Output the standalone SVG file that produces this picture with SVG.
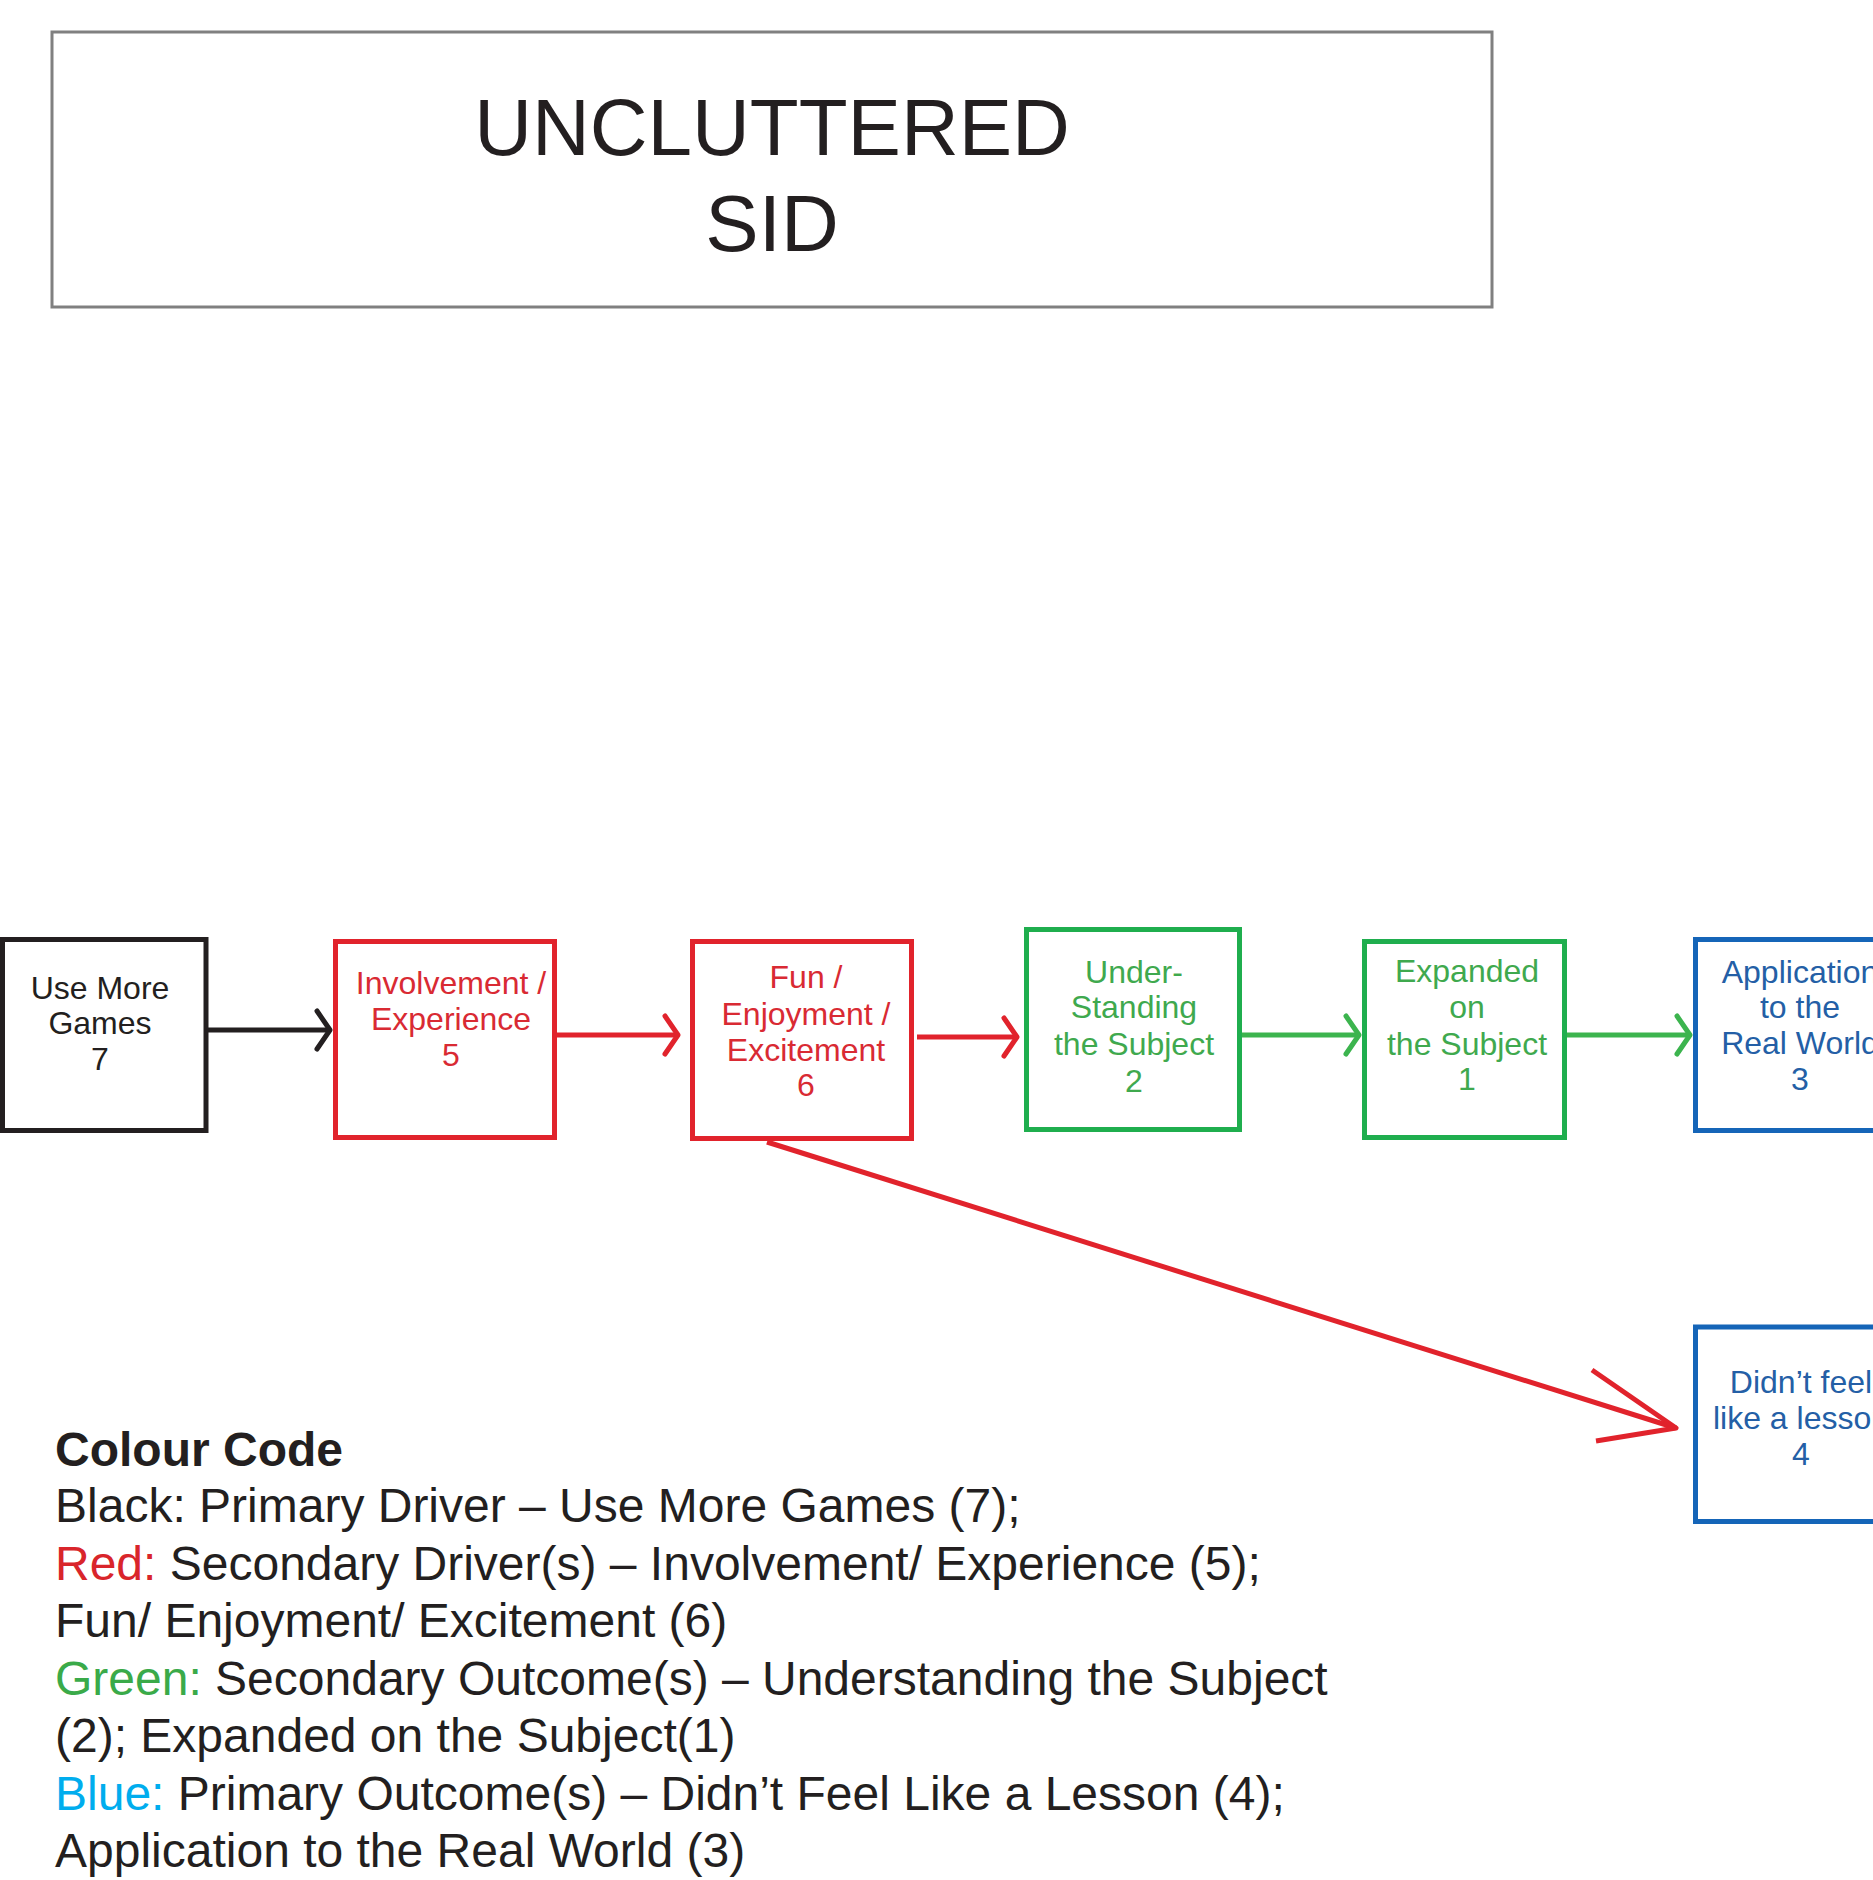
<svg xmlns="http://www.w3.org/2000/svg" width="1873" height="1880" viewBox="0 0 1873 1880">
  <style>
    .box { fill: #ffffff; stroke-width: 5; }
    .k { stroke: #231f20; }
    .r { stroke: #e1232c; }
    .g { stroke: #1fae4e; }
    .b { stroke: #1565b8; }
    .nt { font-family: "Liberation Sans", Arial, sans-serif; font-size: 32px; text-anchor: middle; }
    .tk { fill: #231f20; }
    .tr { fill: #d92a33; }
    .tg { fill: #3fa94e; }
    .tb { fill: #245fa6; }
    .conn { fill: none; stroke-width: 5; stroke-linecap: butt; stroke-linejoin: round; }
    .leg { font-family: "Liberation Sans", Arial, sans-serif; font-size: 48px; fill: #231f20; }
  </style>
  <defs>
    <marker id="ak" markerUnits="userSpaceOnUse" markerWidth="40" markerHeight="50" refX="0" refY="0" orient="auto" overflow="visible">
      <path d="M-13,-19 L0,0 L-13,19" fill="none" stroke="#231f20" stroke-width="5" stroke-linejoin="round" stroke-linecap="round"/>
    </marker>
    <marker id="ar" markerUnits="userSpaceOnUse" markerWidth="40" markerHeight="50" refX="0" refY="0" orient="auto" overflow="visible">
      <path d="M-13,-19 L0,0 L-13,19" fill="none" stroke="#e1232c" stroke-width="5" stroke-linejoin="round" stroke-linecap="round"/>
    </marker>
    <marker id="ag" markerUnits="userSpaceOnUse" markerWidth="40" markerHeight="50" refX="0" refY="0" orient="auto" overflow="visible">
      <path d="M-13,-19 L0,0 L-13,19" fill="none" stroke="#3cb44e" stroke-width="5" stroke-linejoin="round" stroke-linecap="round"/>
    </marker>
  </defs>
  <rect width="1873" height="1880" fill="#ffffff"/>

  <g id="title">
    <rect x="52" y="32" width="1440" height="275" fill="#ffffff" stroke="#808080" stroke-width="3"/>
    <text x="772" y="155" font-family="Liberation Sans, Arial, sans-serif" font-size="80" fill="#231f20" text-anchor="middle">UNCLUTTERED</text>
    <text x="772" y="251" font-family="Liberation Sans, Arial, sans-serif" font-size="80" fill="#231f20" text-anchor="middle">SID</text>
  </g>

  <g id="connectors">
    <line class="conn" x1="207" y1="1030" x2="330" y2="1030" stroke="#231f20" marker-end="url(#ak)"/>
    <line class="conn" x1="556" y1="1035" x2="678" y2="1035" stroke="#e1232c" marker-end="url(#ar)"/>
    <line class="conn" x1="917" y1="1037" x2="1017" y2="1037" stroke="#e1232c" marker-end="url(#ar)"/>
    <line class="conn" x1="1233" y1="1035" x2="1359" y2="1035" stroke="#3cb44e" marker-end="url(#ag)"/>
    <line class="conn" x1="1567" y1="1035" x2="1690" y2="1035" stroke="#3cb44e" marker-end="url(#ag)"/>
    <line class="conn" x1="767" y1="1142" x2="1676" y2="1428" stroke="#e1232c"/>
    <polyline class="conn" points="1592,1370 1676,1428 1596,1441" stroke="#e1232c" stroke-linecap="round"/>
  </g>

  <g id="node7">
    <rect class="box k" x="2.5" y="939.5" width="203.5" height="191"/>
    <text class="nt tk" x="100" y="999">Use More</text>
    <text class="nt tk" x="100" y="1034">Games</text>
    <text class="nt tk" x="100" y="1070">7</text>
  </g>

  <g id="node5">
    <rect class="box r" x="335.5" y="941.5" width="219" height="196"/>
    <text class="nt tr" x="451" y="994">Involvement /</text>
    <text class="nt tr" x="451" y="1030">Experience</text>
    <text class="nt tr" x="451" y="1066">5</text>
  </g>

  <g id="node6">
    <rect class="box r" x="692.5" y="941.5" width="219" height="197"/>
    <text class="nt tr" x="806" y="988">Fun /</text>
    <text class="nt tr" x="806" y="1025">Enjoyment /</text>
    <text class="nt tr" x="806" y="1061">Excitement</text>
    <text class="nt tr" x="806" y="1096">6</text>
  </g>

  <g id="node2">
    <rect class="box g" x="1026.5" y="929.5" width="213" height="200"/>
    <text class="nt tg" x="1134" y="983">Under-</text>
    <text class="nt tg" x="1134" y="1018">Standing</text>
    <text class="nt tg" x="1134" y="1055">the Subject</text>
    <text class="nt tg" x="1134" y="1092">2</text>
  </g>

  <g id="node1">
    <rect class="box g" x="1364.5" y="941.5" width="200" height="196"/>
    <text class="nt tg" x="1467" y="982">Expanded</text>
    <text class="nt tg" x="1467" y="1018">on</text>
    <text class="nt tg" x="1467" y="1055">the Subject</text>
    <text class="nt tg" x="1467" y="1090">1</text>
  </g>

  <g id="node3">
    <rect class="box b" x="1695.5" y="939.5" width="215" height="191"/>
    <text class="nt tb" x="1800" y="983">Application</text>
    <text class="nt tb" x="1800" y="1018">to the</text>
    <text class="nt tb" x="1800" y="1054">Real World</text>
    <text class="nt tb" x="1800" y="1090">3</text>
  </g>

  <g id="node4">
    <rect class="box b" x="1695.5" y="1327" width="215" height="194.5"/>
    <text class="nt tb" x="1801" y="1393">Didn’t feel</text>
    <text class="nt tb" x="1801" y="1429">like a lesson</text>
    <text class="nt tb" x="1801" y="1465">4</text>
  </g>

  <g id="legend">
    <text class="leg" x="55" y="1466" font-weight="bold">Colour Code</text>
    <text class="leg" x="55" y="1522">Black: Primary Driver – Use More Games (7);</text>
    <text class="leg" x="55" y="1580"><tspan fill="#d9252b">Red:</tspan> Secondary Driver(s) – Involvement/ Experience (5);</text>
    <text class="leg" x="55" y="1637">Fun/ Enjoyment/ Excitement (6)</text>
    <text class="leg" x="55" y="1695"><tspan fill="#3aaa49">Green:</tspan> Secondary Outcome(s) – Understanding the Subject</text>
    <text class="leg" x="55" y="1752">(2); Expanded on the Subject(1)</text>
    <text class="leg" x="55" y="1810"><tspan fill="#00adee">Blue:</tspan> Primary Outcome(s) – Didn’t Feel Like a Lesson (4);</text>
    <text class="leg" x="55" y="1867">Application to the Real World (3)</text>
  </g>
</svg>
